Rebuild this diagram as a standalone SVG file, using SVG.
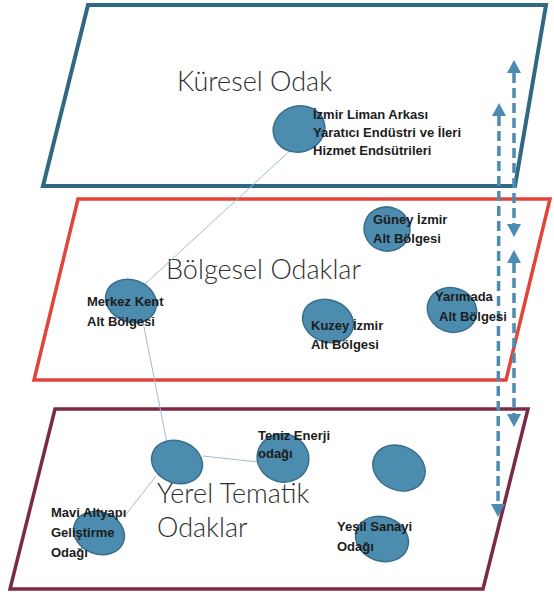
<svg xmlns="http://www.w3.org/2000/svg" width="554" height="595" viewBox="0 0 554 595">
<defs>
<style>
.plane{fill:none;stroke-linejoin:miter}
.node{fill:#4c8cae;stroke:#3a6f8c;stroke-width:1.5}
.lbl{font-family:"Liberation Sans",Arial,sans-serif;font-weight:bold;font-size:13px;fill:#1c1c1c}
.title{font-family:Lato,"Open Sans",sans-serif;font-weight:300;font-size:27px;fill:#2e2e2e}
.link{stroke:#9dbdd2;stroke-width:1;fill:none}
.dash{stroke:#4d8cb2;stroke-width:3.5;stroke-dasharray:10 5;fill:none;marker-start:url(#head);marker-end:url(#head)}
</style>
<marker id="head" viewBox="0 0 13 14" refX="0" refY="7" markerWidth="13" markerHeight="14" markerUnits="userSpaceOnUse" orient="auto-start-reverse">
<path d="M0,0 L13,7 L0,14 Z" fill="#4d8cb2"/>
</marker>
</defs>
<rect width="554" height="595" fill="#ffffff"/>
<g id="plane-kuresel">
<polygon class="plane" points="88,5 546,5 515,186 43,186" stroke="#2f6a82" stroke-width="4"/>
<text class="title" x="177" y="91">Küresel Odak</text>
</g>
<g id="plane-bolgesel">
<polygon class="plane" points="78,199 550,199 506,380 34,380" stroke="#e2443a" stroke-width="3.5"/>
<text class="title" x="166" y="279">Bölgesel Odaklar</text>
</g>
<g id="plane-yerel">
<polygon class="plane" points="55,409 528,409 483,589 10,589" stroke="#7a2947" stroke-width="3.5"/>
<text class="title" x="157" y="503">Yerel Tematik</text>
<text class="title" x="157" y="537">Odaklar</text>
</g>
<g id="connectors">
<line class="link" x1="293" y1="148" x2="145" y2="284"/>
<line class="link" x1="143" y1="322" x2="167" y2="443"/>
<line class="link" x1="203" y1="456" x2="258" y2="462"/>
<line class="link" x1="156" y1="476" x2="124" y2="517"/>
<line class="dash" x1="514" y1="73" x2="514" y2="224"/>
<line class="dash" x1="514" y1="263" x2="514" y2="414"/>
<line class="dash" x1="499" y1="116" x2="498" y2="504"/>
</g>
<g id="node-izmir-liman">
<ellipse class="node" cx="299" cy="129" rx="26" ry="23" transform="rotate(-15 299 129)"/>
<text class="lbl" x="313" y="119">İzmir Liman Arkası</text>
<text class="lbl" x="313" y="137" textLength="148">Yaratıcı Endüstri ve İleri</text>
<text class="lbl" x="313" y="155">Hizmet Endsütrileri</text>
</g>
<g id="node-guney">
<ellipse class="node" cx="387" cy="229" rx="23" ry="22" transform="rotate(15 387 229)"/>
<text class="lbl" x="373" y="224">Güney İzmir</text>
<text class="lbl" x="373" y="243">Alt Bölgesi</text>
</g>
<g id="node-merkez">
<ellipse class="node" cx="131" cy="301" rx="26" ry="21" transform="rotate(20 131 301)"/>
<text class="lbl" x="87" y="306">Merkez Kent</text>
<text class="lbl" x="87" y="326">Alt Bölgesi</text>
</g>
<g id="node-kuzey">
<ellipse class="node" cx="328" cy="321" rx="26" ry="21" transform="rotate(20 328 321)"/>
<text class="lbl" x="311" y="330">Kuzey İzmir</text>
<text class="lbl" x="311" y="349">Alt Bölgesi</text>
</g>
<g id="node-yarimada">
<ellipse class="node" cx="452" cy="310" rx="25" ry="22" transform="rotate(20 452 310)"/>
<text class="lbl" x="435" y="301">Yarımada</text>
<text class="lbl" x="439" y="321">Alt Bölgesi</text>
</g>
<g id="node-hub">
<ellipse class="node" cx="177" cy="462" rx="26" ry="21" transform="rotate(20 177 462)"/>
</g>
<g id="node-teniz">
<ellipse class="node" cx="283" cy="458" rx="26" ry="24" transform="rotate(15 283 458)"/>
<text class="lbl" x="258" y="440">Teniz Enerji</text>
<text class="lbl" x="258" y="458">odağı</text>
</g>
<g id="node-unlabeled">
<ellipse class="node" cx="399" cy="468" rx="27" ry="22" transform="rotate(25 399 468)"/>
</g>
<g id="node-mavi">
<ellipse class="node" cx="99" cy="533" rx="26" ry="21" transform="rotate(20 99 533)"/>
<text class="lbl" x="51" y="517">Mavi Altyapı</text>
<text class="lbl" x="51" y="537">Geliştirme</text>
<text class="lbl" x="51" y="557">Odağı</text>
</g>
<g id="node-yesil">
<ellipse class="node" cx="382" cy="539" rx="27" ry="22" transform="rotate(20 382 539)"/>
<text class="lbl" x="337" y="531">Yeşil Sanayi</text>
<text class="lbl" x="337" y="551">Odağı</text>
</g>
</svg>
